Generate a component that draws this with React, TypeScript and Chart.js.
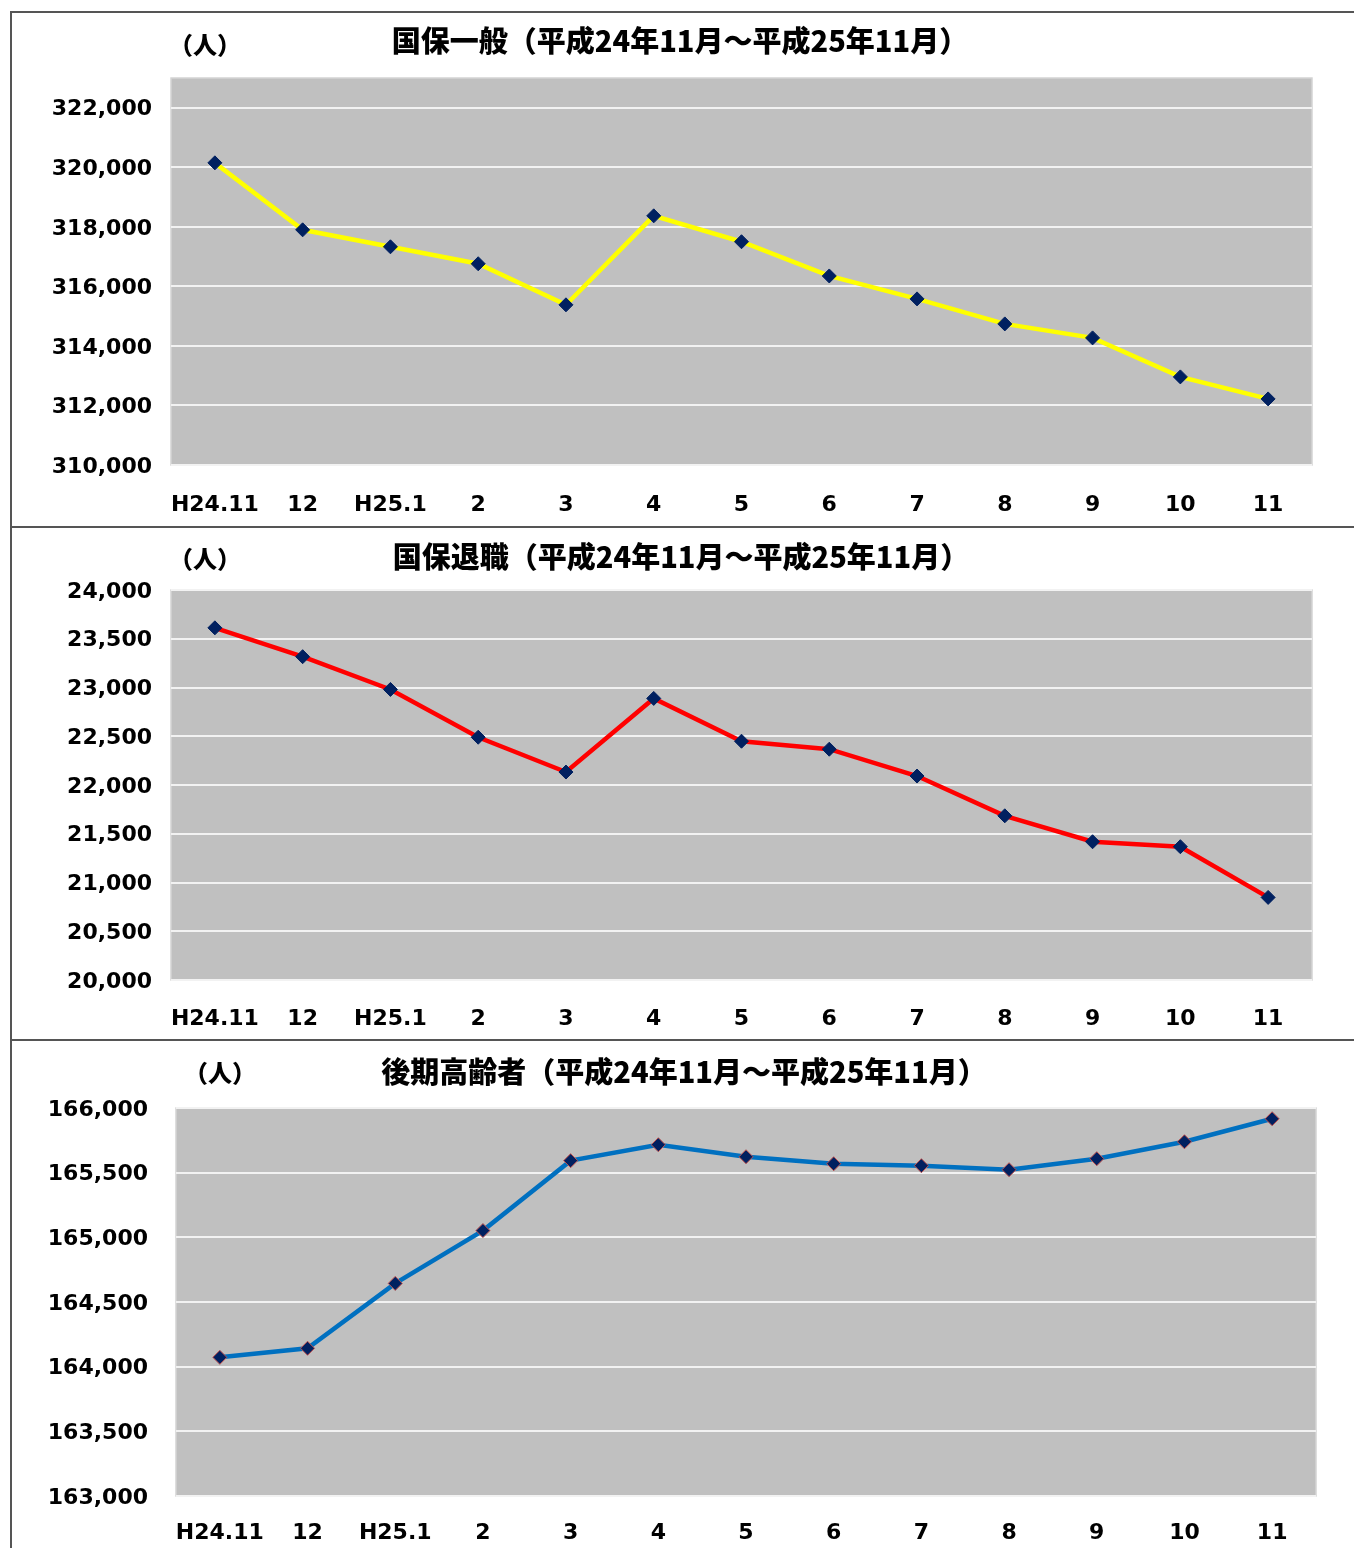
import React, { useEffect, useRef } from 'react';
import { Chart, registerables } from 'chart.js';
Chart.register(...registerables);

const months = ['H24.11', '12', 'H25.1', '2', '3', '4', '5', '6', '7', '8', '9', '10', '11'];

const ippanValues = [320150, 317900, 317330, 316760, 315380, 318370, 317500, 316350, 315580, 314740, 314270, 312960, 312220];
const taishokuValues = [23612, 23316, 22980, 22490, 22133, 22888, 22449, 22367, 22092, 21684, 21418, 21367, 20847];
const kokiValues = [164072, 164142, 164644, 165052, 165593, 165716, 165623, 165569, 165554, 165523, 165608, 165739, 165917];

const ippanTicks = [310000, 312000, 314000, 316000, 318000, 320000, 322000];
const taishokuTicks = [20000, 20500, 21000, 21500, 22000, 22500, 23000, 23500, 24000];
const kokiTicks = [163000, 163500, 164000, 164500, 165000, 165500, 166000];

const ippanTitle = '国保一般（平成24年11月～平成25年11月）';
const taishokuTitle = '国保退職（平成24年11月～平成25年11月）';
const kokiTitle = '後期高齢者（平成24年11月～平成25年11月）';
const unitLabel = '（人）';

const CANVAS_LEFT = 12;
const CANVAS_WIDTH = 1342;

type Panel = {
  top: number;
  height: number;
  values: number[];
  ticks: number[];
  yMin: number;
  yMax: number;
  title: string;
  titleX: number;
  titleY: number;
  unitX: number;
  unitY: number;
  axisWidth: number;
  rightPad: number;
  topPad: number;
  xAxisHeight: number;
  xPad: number;
  yPad: number;
  lineColor: string;
  markerBorder: string;
};

const panels: Panel[] = [
  {
    top: 13, height: 513, values: ippanValues, ticks: ippanTicks, yMin: 310000, yMax: 323000,
    title: ippanTitle, titleX: 680, titleY: 28, unitX: 205, unitY: 32,
    axisWidth: 159, rightPad: 42, topPad: 65, xAxisHeight: 61, xPad: 27, yPad: 19,
    lineColor: '#ffff00', markerBorder: '#002060',
  },
  {
    top: 529, height: 510, values: taishokuValues, ticks: taishokuTicks, yMin: 20000, yMax: 24000,
    title: taishokuTitle, titleX: 681, titleY: 28, unitX: 205, unitY: 30,
    axisWidth: 159, rightPad: 42, topPad: 61, xAxisHeight: 59, xPad: 26, yPad: 19,
    lineColor: '#ff0000', markerBorder: '#002060',
  },
  {
    top: 1042, height: 506, values: kokiValues, ticks: kokiTicks, yMin: 163000, yMax: 166000,
    title: kokiTitle, titleX: 684, titleY: 30, unitX: 220, unitY: 31,
    axisWidth: 164, rightPad: 38, topPad: 66, xAxisHeight: 52, xPad: 24, yPad: 28,
    lineColor: '#0070c0', markerBorder: '#c0504d',
  },
];

const TICK_FONT = { family: '"DejaVu Sans", sans-serif', size: 22, weight: 'bold' as const };

function PanelChart({ p }: { p: Panel }) {
  const ref = useRef<HTMLCanvasElement | null>(null);
  useEffect(() => {
    if (!ref.current) return;
    const bgPlugin = {
      id: 'bg',
      beforeDraw(chart: any) {
        const { ctx, chartArea } = chart;
        ctx.save();
        ctx.fillStyle = '#c0c0c0';
        ctx.fillRect(chartArea.left, chartArea.top, chartArea.right - chartArea.left, chartArea.bottom - chartArea.top);
        ctx.strokeStyle = '#d4d4d4';
        ctx.lineWidth = 1.5;
        ctx.strokeRect(chartArea.left, chartArea.top, chartArea.right - chartArea.left, chartArea.bottom - chartArea.top);
        ctx.restore();
      },
      afterDraw(chart: any) {
        const { ctx } = chart;
        ctx.save();
        ctx.fillStyle = '#000000';
        ctx.textBaseline = 'middle';
        ctx.textAlign = 'center';
        ctx.font = '900 29px "Noto Sans CJK JP", sans-serif';
        ctx.fillText(p.title, p.titleX - CANVAS_LEFT, p.titleY);
        ctx.font = '900 24px "Noto Sans CJK JP", sans-serif';
        ctx.fillText(unitLabel, p.unitX - CANVAS_LEFT, p.unitY);
        ctx.restore();
      },
    };
    const chart = new Chart(ref.current, {
      type: 'line',
      data: {
        labels: months,
        datasets: [
          {
            data: p.values,
            borderColor: p.lineColor,
            borderWidth: 4.5,
            pointStyle: 'rectRot',
            pointRadius: 7,
            pointBackgroundColor: '#002060',
            pointBorderColor: p.markerBorder,
            pointBorderWidth: 1,
            tension: 0,
          },
        ],
      },
      options: {
        responsive: false,
        animation: false,
        devicePixelRatio: 1,
        layout: { padding: { left: 0, right: p.rightPad, top: p.topPad, bottom: 0 } },
        plugins: { legend: { display: false }, tooltip: { enabled: false }, title: { display: false } },
        scales: {
          x: {
            offset: true,
            grid: { display: false, drawTicks: false },
            border: { display: false },
            ticks: { color: '#000000', font: TICK_FONT, padding: p.xPad, maxRotation: 0, autoSkip: false },
            afterFit: (s: any) => { s.height = p.xAxisHeight; },
          },
          y: {
            min: p.yMin,
            max: p.yMax,
            grid: { color: '#f2f2f2', lineWidth: 2, drawTicks: false },
            border: { display: false },
            ticks: {
              color: '#000000',
              font: TICK_FONT,
              padding: p.yPad,
              labelOffset: 2,
              callback: (v: any) => Number(v).toLocaleString('en-US'),
            },
            afterBuildTicks: (axis: any) => { axis.ticks = p.ticks.map((v) => ({ value: v })); },
            afterFit: (s: any) => { s.width = p.axisWidth; },
          },
        },
      },
      plugins: [bgPlugin],
    });
    return () => chart.destroy();
  }, [p]);
  return (
    <canvas
      ref={ref}
      width={CANVAS_WIDTH}
      height={p.height}
      style={{ position: 'absolute', left: CANVAS_LEFT, top: p.top, width: CANVAS_WIDTH, height: p.height }}
    />
  );
}

export default function App() {
  const line = '#555555';
  return (
    <div style={{ position: 'absolute', left: 0, top: 0, width: 1354, height: 1548, background: '#ffffff', overflow: 'hidden' }}>
      <div style={{ position: 'absolute', left: 10, top: 11, width: 1344, height: 2, background: line }} />
      <div style={{ position: 'absolute', left: 10, top: 11, width: 2, height: 1537, background: line }} />
      <div style={{ position: 'absolute', left: 10, top: 526, width: 1344, height: 2, background: line }} />
      <div style={{ position: 'absolute', left: 10, top: 1039, width: 1344, height: 2, background: line }} />
      {panels.map((p, i) => (
        <PanelChart key={i} p={p} />
      ))}
    </div>
  );
}
